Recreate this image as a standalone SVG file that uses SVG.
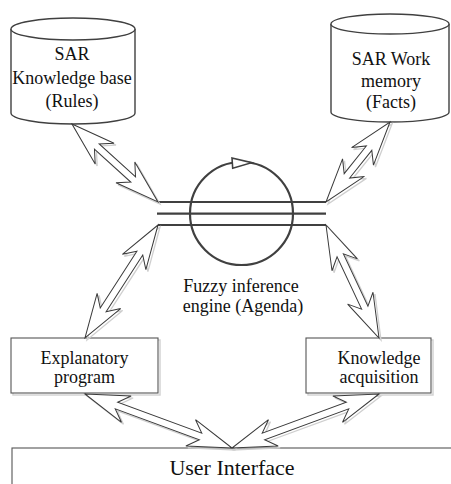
<svg xmlns="http://www.w3.org/2000/svg" xmlns:xlink="http://www.w3.org/1999/xlink" width="451" height="484" viewBox="0 0 451 484">
<style>
  .txt { font-family: "Liberation Serif", "Times New Roman", serif; font-size: 18px; fill: #111; text-anchor: middle; }
  .big { font-size: 22px; }
  .shape { fill: #fff; stroke: #404040; stroke-width: 1.4; }
  .box { fill: #fff; stroke: #555; stroke-width: 1.1; }
  .boxsh { fill: none; stroke: #d4d4d4; stroke-width: 1.5; }
  .ar { fill: #fff; stroke: #3a3a3a; stroke-width: 1; stroke-linejoin: miter; }
  .sh { fill: none; stroke: #cfcfcf; stroke-width: 1.3; }
  .bar { stroke: #404040; stroke-width: 2.2; fill: none; }
</style>
<defs>
  <polygon id="a1" transform="translate(72,124) rotate(42.21)" points="0,0 44,-14 33.5,-3.5 82.6,-3.5 72.1,-14 116.1,0 72.1,14 82.6,3.5 33.5,3.5 44,14"/>
  <polygon id="a2" transform="translate(390,122) rotate(128.66)" points="0,0 44,-14 33.5,-3.5 68.95,-3.5 58.45,-14 102.45,0 58.45,14 68.95,3.5 33.5,3.5 44,14"/>
  <polygon id="a3" transform="translate(158,225) rotate(122.87)" points="0,0 44,-14 33.5,-3.5 101,-3.5 90.5,-14 134.5,0 90.5,14 101,3.5 33.5,3.5 44,14"/>
  <polygon id="a4" transform="translate(326,225) rotate(64.87)" points="0,0 44,-14 33.5,-3.5 91.3,-3.5 80.8,-14 124.8,0 80.8,14 91.3,3.5 33.5,3.5 44,14"/>
  <polygon id="a5" transform="translate(85,394) rotate(20.17)" points="0,0 44,-14 33.5,-3.5 123.1,-3.5 112.6,-14 156.6,0 112.6,14 123.1,3.5 33.5,3.5 44,14"/>
  <polygon id="a6" transform="translate(379,394) rotate(159.83)" points="0,0 44,-14 33.5,-3.5 123.1,-3.5 112.6,-14 156.6,0 112.6,14 123.1,3.5 33.5,3.5 44,14"/>
</defs>

<g id="knowledge-base">
  <path class="shape" d="M11,29 A62,11 0 0 1 135,29 L135,113 A62,11 0 0 1 11,113 Z"/>
  <path class="shape" fill="none" d="M11,29 A62,11 0 0 0 135,29"/>
  <text class="txt" x="72" y="60">SAR</text>
  <text class="txt" x="72" y="83.5">Knowledge base</text>
  <text class="txt" x="72" y="107">(Rules)</text>
</g>

<g id="work-memory">
  <path class="shape" d="M331,24 A59,10 0 0 1 449,24 L449,112 A59,10 0 0 1 331,112 Z"/>
  <path class="shape" fill="none" d="M331,24 A59,10 0 0 0 449,24"/>
  <text class="txt" x="391" y="65">SAR Work</text>
  <text class="txt" x="391" y="86.5">memory</text>
  <text class="txt" x="391" y="108">(Facts)</text>
</g>

<g id="inference-engine">
  <circle class="bar" cx="241.5" cy="213.5" r="51.5" stroke-width="2"/>
  <line class="bar" x1="158" y1="202" x2="326" y2="202"/>
  <line class="bar" x1="157" y1="213.7" x2="326" y2="213.7"/>
  <line class="bar" x1="158" y1="225" x2="326" y2="225"/>
  <polygon points="232,158 232.7,168.3 251.7,162.7" fill="#fff" stroke="#404040" stroke-width="1.6"/>
  <text class="txt" x="241" y="291.5">Fuzzy inference</text>
  <text class="txt" x="243" y="311.5">engine (Agenda)</text>
</g>

<g id="explanatory-program">
  <rect class="boxsh" x="13" y="340" width="147" height="55"/>
  <rect class="box" x="11" y="338" width="147" height="55"/>
  <text class="txt" x="84.5" y="364">Explanatory</text>
  <text class="txt" x="84.5" y="383">program</text>
</g>

<g id="knowledge-acquisition">
  <rect class="boxsh" x="308" y="340" width="125" height="55"/>
  <rect class="box" x="306" y="338" width="125" height="55"/>
  <text class="txt" x="379" y="364">Knowledge</text>
  <text class="txt" x="379" y="383">acquisition</text>
</g>

<g id="user-interface">
  <rect class="boxsh" x="14" y="450" width="450" height="60"/>
  <rect class="box" x="12" y="448" width="450" height="60"/>
  <text class="txt big" x="232" y="475">User Interface</text>
</g>

<g id="connectors">
  <use xlink:href="#a1" class="sh" transform="translate(2,2)"/>
  <use xlink:href="#a1" class="ar"/>
  <use xlink:href="#a2" class="sh" transform="translate(2,2)"/>
  <use xlink:href="#a2" class="ar"/>
  <use xlink:href="#a3" class="sh" transform="translate(2,2)"/>
  <use xlink:href="#a3" class="ar"/>
  <use xlink:href="#a4" class="sh" transform="translate(2,2)"/>
  <use xlink:href="#a4" class="ar"/>
  <use xlink:href="#a5" class="sh" transform="translate(2,2)"/>
  <use xlink:href="#a5" class="ar"/>
  <use xlink:href="#a6" class="sh" transform="translate(2,2)"/>
  <use xlink:href="#a6" class="ar"/>
</g>
</svg>
